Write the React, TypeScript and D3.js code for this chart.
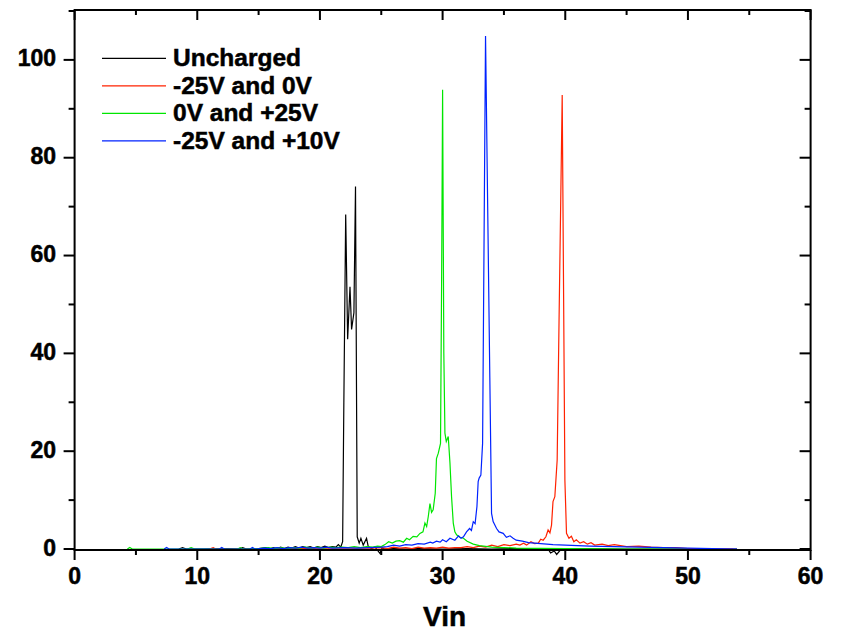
import React from "react";
import * as d3 from "d3";

// Vin vs signal
const uncharged: [number, number][] = [
  [8.5, 0], [8.8, 0.3], [9.1, 0], [10.5, 0], [12.5, 0.1], [13.4, 0], [13.7, 0.3], [14, 0],
  [15, 0.1], [15.6, 0.3], [15.9, 0], [16.2, 0.3], [16.5, 0.1], [16.8, 0.4], [17.1, 0.1],
  [17.4, 0.4], [17.7, 0.2], [18, 0.5], [18.3, 0.2], [18.6, 0.5], [18.9, 0.3], [19.2, 0.5],
  [19.5, 0.2], [19.8, 0.5], [20.1, 0.3], [20.4, 0.6], [20.7, 0.3], [21, 0.5], [21.3, 0.4],
  [21.5, 0.9], [21.7, 0.4], [21.85, 1.5], [21.95, 30], [22.1, 68.4], [22.26, 42.9],
  [22.45, 53.6], [22.58, 44.9], [22.77, 48.3], [22.9, 74.1], [23.04, 2.5], [23.2, 1.2],
  [23.34, 2.2], [23.53, 0.8], [23.8, 2.2], [23.94, 0.5], [24.2, 0.1], [24.5, 0.4],
  [24.7, -0.3], [24.9, -0.9], [25.05, 0.2], [25.3, 0], [26, 0.1], [27, 0], [28, 0.1],
  [30, 0], [32, 0.1], [34, 0], [36, 0.1], [38.6, 0], [38.8, -0.8], [39.1, -0.4],
  [39.3, -1.1], [39.6, -0.2], [39.8, 0], [41, 0.1], [45, 0], [50, 0], [54, 0],
];

const minus25and0: [number, number][] = [
  [11, 0], [11.3, 0.3], [11.5, 0], [14, 0], [16, 0.1], [18, 0.1], [20, 0.2], [22, 0.2],
  [24, 0.2], [25, 0.3], [25.5, 0.1], [26, 0.4], [26.5, 0.2], [27, 0.3], [27.5, 0.1],
  [28, 0.4], [28.5, 0.2], [29, 0.3], [29.5, 0.2], [30, 0.4], [30.5, 0.2], [31, 0.3],
  [31.5, 0.3], [32, 0.5], [32.5, 0.3], [33, 0.6], [33.5, 0.4], [34, 0.8], [34.5, 0.5],
  [35, 0.9], [35.5, 0.7], [36, 1.0], [36.3, 0.8], [36.6, 1.2], [36.85, 0.8], [37.2, 1.5],
  [37.5, 1.1], [37.8, 1.2], [38.0, 2.0], [38.2, 1.8], [38.42, 2.5], [38.6, 3.9],
  [38.75, 3.3], [38.88, 4.9], [39.0, 9.7], [39.15, 10.7], [39.34, 18.2], [39.5, 48],
  [39.75, 92.8], [39.97, 14], [40.1, 3.2], [40.3, 2.2], [40.5, 2.6], [40.7, 1.5],
  [40.9, 1.9], [41.2, 1.2], [41.5, 1.5], [41.8, 1.0], [42.1, 1.3], [42.4, 0.8], [43, 1.0],
  [43.5, 0.7], [44, 0.9], [45, 0.5], [46, 0.6], [47, 0.4], [48, 0.3], [49, 0.3], [50, 0.1],
  [51, 0.1], [52, 0], [53.7, 0],
];

const zeroAnd25: [number, number][] = [
  [4.3, 0], [4.5, 0.3], [4.7, 0], [6, 0], [9.2, 0], [9.5, 0.3], [9.8, 0], [12, 0],
  [13.3, 0], [13.5, 0.3], [13.8, 0], [15, 0.1], [15.8, 0.3], [16.3, 0.1], [16.8, 0.3],
  [17.3, 0.1], [17.8, 0.3], [18.3, 0.2], [18.8, 0.4], [19.3, 0.2], [19.8, 0.4], [20.3, 0.2],
  [20.8, 0.4], [21.3, 0.3], [21.8, 0.4], [22.3, 0.3], [22.8, 0.5], [23.3, 0.3], [23.8, 0.5],
  [24.3, 0.4], [24.7, 0.6], [25, 0.5], [25.3, 0.9], [25.6, 1.5], [25.9, 1.2], [26.2, 1.6],
  [26.5, 1.7], [26.8, 1.4], [27.07, 2.2], [27.3, 1.9], [27.6, 2.6], [27.9, 2.5],
  [28.15, 3.2], [28.4, 3.5], [28.56, 5.3], [28.7, 4.6], [28.83, 6.6], [28.97, 9.3],
  [29.1, 7.5], [29.23, 8], [29.4, 11.4], [29.5, 18.5], [29.65, 19.6], [29.83, 21.6],
  [29.92, 55], [30.0, 93.9], [30.1, 40], [30.19, 23.7], [30.3, 22], [30.46, 23],
  [30.6, 17.6], [30.73, 10.7], [30.87, 5.3], [31.0, 3.5], [31.14, 2.9], [31.4, 2.4],
  [31.7, 2.2], [32, 1.6], [32.5, 1.0], [33, 0.7], [34, 0.4], [35, 0.3], [36, 0.2],
  [40, 0.1], [45, 0], [50, 0],
];

const minus25and10: [number, number][] = [
  [7.3, 0], [7.5, 0.3], [7.7, 0], [11.8, 0], [12, 0.3], [12.2, 0], [14.3, 0], [14.5, 0.3],
  [14.7, 0], [15.5, 0.2], [16, 0.1], [16.5, 0.3], [17, 0.1], [17.5, 0.3], [18, 0.2],
  [18.5, 0.4], [19, 0.2], [19.5, 0.3], [20, 0.2], [20.5, 0.4], [21, 0.2], [22, 0.3],
  [23, 0.2], [24, 0.3], [25, 0.4], [25.5, 0.5], [26, 0.8], [26.5, 0.6], [27, 0.9],
  [27.5, 0.8], [28, 1.1], [28.5, 1.0], [29, 1.4], [29.2, 1.2], [29.5, 1.6], [29.8, 1.4],
  [30, 1.9], [30.3, 1.5], [30.6, 2.2], [31, 1.8], [31.3, 2.7], [31.5, 2.2], [31.7, 2.5],
  [31.95, 3.5], [32.2, 4.2], [32.35, 3.8], [32.5, 5.6], [32.65, 5.2], [32.8, 8.7],
  [32.9, 13.8], [32.98, 14.5], [33.12, 15.1], [33.26, 21.6], [33.5, 104.9], [33.7, 65],
  [33.85, 35], [33.99, 7.3], [34.12, 5.6], [34.4, 4.2], [34.6, 3.5], [34.94, 3.2],
  [35.2, 2.4], [35.5, 2.7], [35.75, 2.2], [36, 1.8], [36.5, 1.6], [37, 1.3], [37.5, 1.2],
  [38, 1.1], [39, 0.9], [40, 0.8], [42, 0.6], [44, 0.5], [46, 0.4], [48, 0.3], [50, 0.2],
  [52, 0.1], [54, 0],
];

const seriesNames = ["Uncharged", "-25V and 0V", "0V and +25V", "-25V and +10V"];
const seriesColors = ["#000000", "#ff2200", "#00e600", "#0022ff"];
const seriesData = [uncharged, minus25and0, zeroAnd25, minus25and10];

const xMajor = [0, 10, 20, 30, 40, 50, 60];
const xMinor = [5, 15, 25, 35, 45, 55];
const yMajor = [0, 20, 40, 60, 80, 100];
const yMinor = [10, 30, 50, 70, 90, 110];

export default function App() {
  const width = 842;
  const height = 631;
  const left = 74.6;
  const right = 810.6;
  const top = 10;
  const bottom = 550;

  const x = d3.scaleLinear().domain([0, 60]).range([left, right]);
  const y = d3.scaleLinear().domain([-0.2, 110.2]).range([bottom, top]);

  const line = d3
    .line<[number, number]>()
    .x((d) => x(d[0]))
    .y((d) => y(d[1]));

  const font = "'Liberation Sans', Arial, sans-serif";
  // the original labels are a touch heavier than plain bold
  const heavy = { fontFamily: font, fontWeight: "bold", stroke: "#000", strokeWidth: 0.5 };

  return (
    <svg
      width={width}
      height={height}
      style={{ position: "absolute", left: 0, top: 0, background: "#fff" }}
    >
      {seriesData.map((d, i) => (
        <path key={i} d={line(d) || ""} fill="none" stroke={seriesColors[i]} strokeWidth={1.2} />
      ))}

      {/* frame */}
      <rect x={left} y={top} width={right - left} height={bottom - top} fill="none" stroke="#000" strokeWidth={2} />

      {/* x ticks, bottom outward and top inward */}
      {xMajor.map((t) => (
        <g key={"xM" + t}>
          <line x1={x(t)} x2={x(t)} y1={bottom} y2={bottom + 10} stroke="#000" strokeWidth={2} />
          <line x1={x(t)} x2={x(t)} y1={top} y2={top + 10} stroke="#000" strokeWidth={2} />
          <text x={x(t)} y={583.5} textAnchor="middle" fontSize={23} {...heavy}>
            {t}
          </text>
        </g>
      ))}
      {xMinor.map((t) => (
        <g key={"xm" + t}>
          <line x1={x(t)} x2={x(t)} y1={bottom} y2={bottom + 5} stroke="#000" strokeWidth={2} />
          <line x1={x(t)} x2={x(t)} y1={top} y2={top + 5} stroke="#000" strokeWidth={2} />
        </g>
      ))}

      {/* y ticks, left outward and right inward */}
      {yMajor.map((t) => (
        <g key={"yM" + t}>
          <line x1={left - 11} x2={left} y1={y(t)} y2={y(t)} stroke="#000" strokeWidth={2} />
          <line x1={right - 11} x2={right} y1={y(t)} y2={y(t)} stroke="#000" strokeWidth={2} />
          <text x={56} y={y(t) + 6.5} textAnchor="end" fontSize={23} {...heavy}>
            {t}
          </text>
        </g>
      ))}
      {yMinor.map((t) => (
        <g key={"ym" + t}>
          <line x1={left - 6} x2={left} y1={y(t)} y2={y(t)} stroke="#000" strokeWidth={2} />
          <line x1={right - 6} x2={right} y1={y(t)} y2={y(t)} stroke="#000" strokeWidth={2} />
        </g>
      ))}

      <text x={(left + right) / 2 + 2} y={625.5} textAnchor="middle" fontSize={28} {...heavy}>
        Vin
      </text>

      {/* legend */}
      {seriesNames.map((name, i) => {
        const ly = 58.3 + i * 27.5;
        return (
          <g key={name}>
            <line x1={102} x2={166} y1={ly} y2={ly} stroke={seriesColors[i]} strokeWidth={1.2} />
            <text x={173} y={ly + 7.8} fontSize={24.5} {...heavy}>
              {name}
            </text>
          </g>
        );
      })}
    </svg>
  );
}
